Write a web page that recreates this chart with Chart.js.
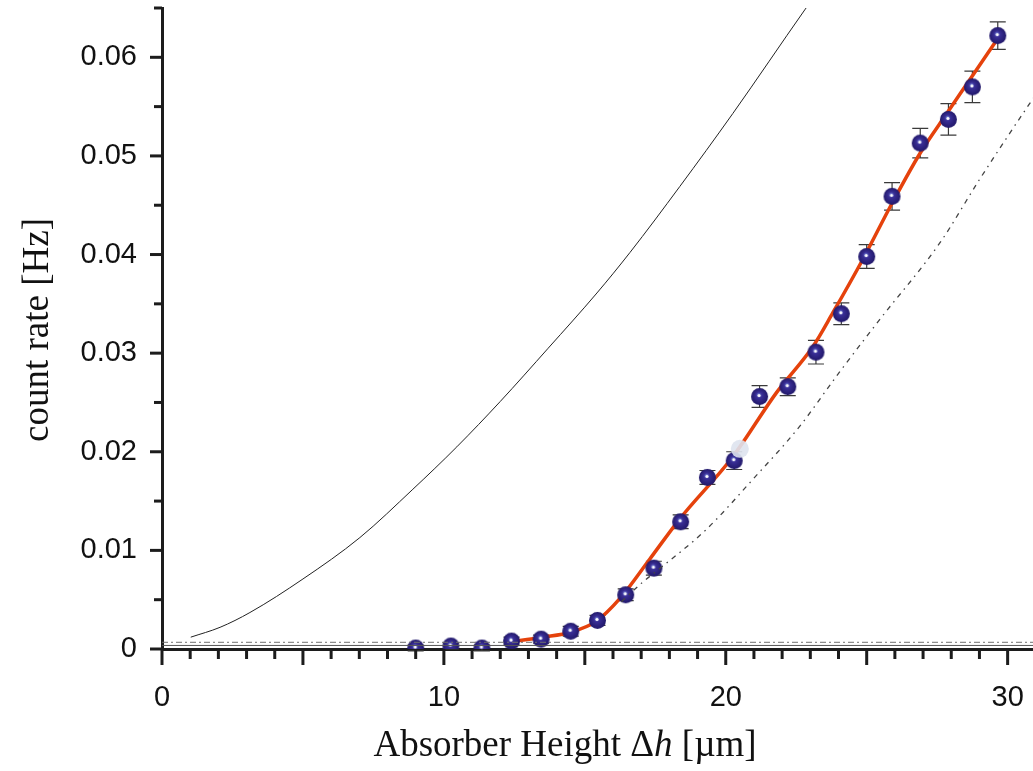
<!DOCTYPE html>
<html lang="en">
<head>
  <meta charset="UTF-8" />
  <title>Count rate vs absorber height</title>
  <script src="https://cdn.jsdelivr.net/npm/chart.js"></script>
  <style>
    body { margin: 0; background: #fff; }
    #wrap { width: 1033px; height: 771px; position: relative; }
  </style>
</head>
<body>
  <div id="wrap"><canvas id="rateChart"></canvas></div>

  <script>
    // measured count rates (blue spheres) with errors
    const measX = [9.0, 10.25, 11.35, 12.4, 13.45, 14.5, 15.45, 16.45, 17.45, 18.4, 19.35, 20.3, 21.2, 22.2, 23.2, 24.1, 25.0, 25.9, 26.9, 27.9, 28.75, 29.65];
    const measY = [0.0001, 0.0003, 0.0001, 0.0008, 0.001, 0.0018, 0.0029, 0.0055, 0.0082, 0.0129, 0.0174, 0.0191, 0.0256, 0.0266, 0.0301, 0.034, 0.0398, 0.0459, 0.0513, 0.0537, 0.057, 0.0622];
    const measErr = [0.0003, 0.0003, 0.0003, 0.0004, 0.0004, 0.0005, 0.0005, 0.0006, 0.0007, 0.0007, 0.0007, 0.0009, 0.0011, 0.0009, 0.0012, 0.0011, 0.0012, 0.0014, 0.0015, 0.0016, 0.0016, 0.0014];

    // faint extra point
    const ghostX = [20.5];
    const ghostY = [0.0203];

    // fit (orange)
    const fitX = [12.3, 13.5, 14.5, 15.4, 16.24, 17.3, 18.37, 20.25, 21.8, 23.1, 23.8, 24.86, 25.9, 26.9, 27.84, 28.65, 29.65];
    const fitY = [0.0007, 0.0012, 0.0017, 0.0028, 0.0051, 0.0091, 0.0132, 0.0195, 0.026, 0.0307, 0.0341, 0.0395, 0.0452, 0.0503, 0.0543, 0.0577, 0.0619];

    // thin solid curve
    const curveX = [1.02, 2.06, 3.12, 5.0, 7.02, 8.9, 10.46, 12.0, 13.7, 15.43, 16.6, 18.37, 20.25, 22.8, 23.0];
    const curveY = [0.0012, 0.0022, 0.0037, 0.0071, 0.0113, 0.0162, 0.0205, 0.0251, 0.0305, 0.0361, 0.0402, 0.0469, 0.0543, 0.0648, 0.0656];

    // dash-dot curve
    const dotX = [16.3, 17.06, 17.5, 19.3, 20.96, 22.6, 24.04, 25.46, 27.6, 29.0, 30.78, 31.0];
    const dotY = [0.0048, 0.0068, 0.0078, 0.0121, 0.0172, 0.0225, 0.0281, 0.0334, 0.0412, 0.0476, 0.0553, 0.0562];

    // background levels near zero
    const levelX = [0, 31];
    const levelHigh = [0.00068, 0.00068];
    const levelLow = [0.00036, 0.00036];

    const xTickLabels = [0, 10, 20, 30];
    const yTickLabels = [0, 0.01, 0.02, 0.03, 0.04, 0.05, 0.06];

    const pts = (xs, ys) => xs.map((x, i) => ({ x: x, y: ys[i] }));

    // little shaded sphere used as point marker
    function sphere(r) {
      const c = document.createElement("canvas");
      c.width = c.height = r * 2 + 2;
      const g = c.getContext("2d");
      const m = r + 1;
      const grad = g.createRadialGradient(m - 1, m - 2, 0.5, m, m, r);
      grad.addColorStop(0, "#6b7ad0");
      grad.addColorStop(0.3, "#3a2f96");
      grad.addColorStop(1, "#21186a");
      g.fillStyle = grad;
      g.beginPath();
      g.arc(m, m, r, 0, Math.PI * 2);
      g.fill();
      g.fillStyle = "#ffffff";
      g.beginPath();
      g.arc(m - 0.5, m - 1, 1.6, 0, Math.PI * 2);
      g.fill();
      return c;
    }
    const ball = sphere(8.5);

    const AXIS = "#1c1c1c";

    const errorBars = {
      id: "errorBars",
      beforeDatasetsDraw(chart) {
        const { ctx, scales: { x, y } } = chart;
        ctx.save();
        ctx.strokeStyle = "#3a3a3a";
        ctx.lineWidth = 1.2;
        measX.forEach((v, i) => {
          const px = x.getPixelForValue(v);
          const top = y.getPixelForValue(measY[i] + measErr[i]);
          const bot = y.getPixelForValue(measY[i] - measErr[i]);
          ctx.beginPath();
          ctx.moveTo(px, top); ctx.lineTo(px, bot);
          ctx.moveTo(px - 8, top); ctx.lineTo(px + 8, top);
          ctx.moveTo(px - 8, bot); ctx.lineTo(px + 8, bot);
          ctx.stroke();
        });
        ctx.restore();
      }
    };

    const axisDecor = {
      id: "axisDecor",
      afterDraw(chart) {
        const { ctx, chartArea, scales: { x, y } } = chart;
        ctx.save();
        ctx.strokeStyle = AXIS;
        ctx.lineWidth = 3;
        ctx.lineCap = "butt";
        x.ticks.forEach(t => {
          const px = x.getPixelForValue(t.value);
          const len = Math.round(t.value) % 5 === 0 ? 16 : 10;
          ctx.beginPath();
          ctx.moveTo(px, chartArea.bottom);
          ctx.lineTo(px, chartArea.bottom + len);
          ctx.stroke();
        });
        y.ticks.forEach(t => {
          const py = y.getPixelForValue(t.value);
          const major = Math.abs(t.value * 100 - Math.round(t.value * 100)) < 1e-6;
          const len = major ? 12 : 8;
          ctx.beginPath();
          ctx.moveTo(chartArea.left - len, py);
          ctx.lineTo(chartArea.left, py);
          ctx.stroke();
        });

        // axis titles (serif, italic h)
        ctx.fillStyle = "#111";
        ctx.textBaseline = "middle";
        const upright = "37px 'Liberation Serif', 'DejaVu Serif', serif";
        const italic = "italic 37px 'Liberation Serif', 'DejaVu Serif', serif";
        const parts = [["Absorber Height \u0394", upright], ["h", italic], [" [\u00b5m]", upright]];
        let total = 0;
        parts.forEach(p => { ctx.font = p[1]; total += ctx.measureText(p[0]).width; });
        let tx = 565 - total / 2;
        ctx.textAlign = "left";
        parts.forEach(p => {
          ctx.font = p[1];
          ctx.fillText(p[0], tx, 746);
          tx += ctx.measureText(p[0]).width;
        });

        ctx.translate(38, 330);
        ctx.rotate(-Math.PI / 2);
        ctx.textAlign = "center";
        ctx.font = upright;
        ctx.fillText("count rate [Hz]", 0, 0);
        ctx.restore();
      }
    };

    new Chart(document.getElementById("rateChart"), {
      type: "scatter",
      data: {
        datasets: [
          {
            label: "level high",
            type: "line",
            data: pts(levelX, levelHigh),
            borderColor: "#6e6e6e",
            borderWidth: 1,
            borderDash: [6, 3, 2, 3],
            pointRadius: 0
          },
          {
            label: "level low",
            type: "line",
            data: pts(levelX, levelLow),
            borderColor: "#555",
            borderWidth: 1,
            pointRadius: 0
          },
          {
            label: "curve",
            type: "line",
            data: pts(curveX, curveY),
            borderColor: "#222",
            borderWidth: 1,
            pointRadius: 0,
            cubicInterpolationMode: "monotone"
          },
          {
            label: "dash-dot",
            type: "line",
            data: pts(dotX, dotY),
            borderColor: "#444",
            borderWidth: 1.3,
            borderDash: [5, 5, 1.5, 5],
            pointRadius: 0,
            cubicInterpolationMode: "monotone"
          },
          {
            label: "ghost",
            data: pts(ghostX, ghostY),
            pointRadius: 9,
            backgroundColor: "rgba(222,227,238,0.9)",
            borderWidth: 0
          },
          {
            label: "measured",
            data: pts(measX, measY),
            pointStyle: ball,
            pointRadius: 8
          },
          {
            label: "fit",
            type: "line",
            data: pts(fitX, fitY),
            borderColor: "#e5420c",
            borderWidth: 3.5,
            pointRadius: 0,
            cubicInterpolationMode: "monotone"
          }
        ]
      },
      options: {
        responsive: true,
        maintainAspectRatio: false,
        animation: false,
        layout: { autoPadding: false, padding: { top: 8, right: 0, left: 0, bottom: 0 } },
        plugins: { legend: { display: false }, tooltip: { enabled: false } },
        scales: {
          x: {
            type: "linear",
            min: 0,
            max: 30.9,
            afterFit(s) { s.height = 122; s.paddingLeft = 0; s.paddingRight = 0; },
            border: { display: true, color: AXIS, width: 3 },
            grid: { display: true, drawOnChartArea: false, tickLength: 16, tickColor: "rgba(0,0,0,0)" },
            ticks: {
              stepSize: 1,
              autoSkip: false,
              includeBounds: false,
              maxRotation: 0,
              padding: 16,
              color: "#111",
              font: { family: "'Liberation Sans', Arial, sans-serif", size: 29 },
              callback: v => xTickLabels.includes(v) ? String(v) : ""
            }
          },
          y: {
            type: "linear",
            min: 0,
            max: 0.065,
            afterFit(s) { s.width = 162; s.paddingTop = 0; s.paddingBottom = 0; },
            border: { display: true, color: AXIS, width: 3 },
            grid: { display: true, drawOnChartArea: false, tickLength: 12, tickColor: "rgba(0,0,0,0)" },
            ticks: {
              stepSize: 0.005,
              autoSkip: false,
              padding: 13,
              color: "#111",
              font: { family: "'Liberation Sans', Arial, sans-serif", size: 29 },
              callback: v => {
                const hit = yTickLabels.find(t => Math.abs(t - v) < 1e-7);
                if (hit === undefined) return "";
                return hit === 0 ? "0" : hit.toFixed(2);
              }
            }
          }
        }
      },
      plugins: [errorBars, axisDecor]
    });
  </script>
</body>
</html>
